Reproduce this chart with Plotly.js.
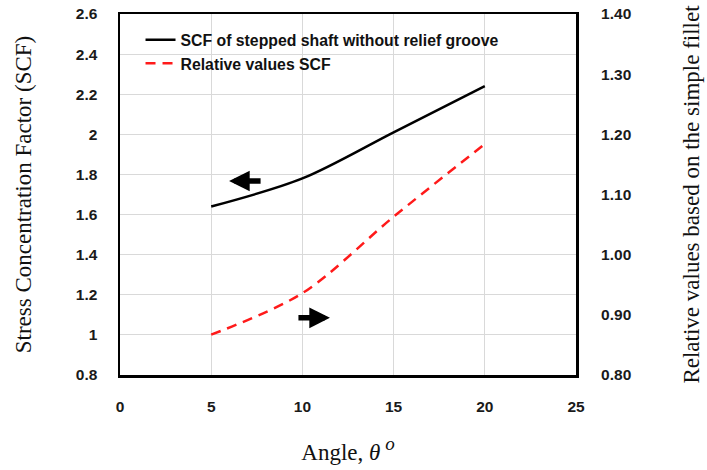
<!DOCTYPE html>
<html>
<head>
<meta charset="utf-8">
<script src="https://cdn.plot.ly/plotly-3.0.1.min.js"></script>
<style>
  html, body { margin: 0; padding: 0; background: #fff; }
  #chart { width: 707px; height: 470px; }
</style>
</head>
<body>
<div id="chart"></div>
<script>
// Fillet angle (degrees)
const angle = [5, 10, 15, 20];
// Stress concentration factor of the stepped shaft without relief groove (left axis)
const scf = [1.64, 1.78, 2.01, 2.24];
// Relative SCF values based on the simple fillet (right axis)
const relativeScf = [0.867, 0.936, 1.063, 1.184];

const xTicks = [0, 5, 10, 15, 20, 25];
const leftTicks = [0.8, 1, 1.2, 1.4, 1.6, 1.8, 2, 2.2, 2.4, 2.6];
const rightTicks = [0.8, 0.9, 1.0, 1.1, 1.2, 1.3, 1.4];

const tickFont = { family: 'Liberation Sans, Arial, sans-serif', size: 15.5, color: '#1a1a1a', weight: 'bold' };
const titleFont = { family: 'Liberation Serif, Times New Roman, serif', size: 23, color: '#111' };

const traces = [
  {
    x: angle, y: scf, type: 'scatter', mode: 'lines',
    name: 'SCF of stepped shaft without relief groove',
    line: { color: '#000', width: 2.5, shape: 'spline', smoothing: 0.9 },
    yaxis: 'y'
  },
  {
    x: angle, y: relativeScf, type: 'scatter', mode: 'lines',
    name: 'Relative values SCF',
    line: { color: '#ff1a1a', width: 2.5, dash: '10px,7px', shape: 'spline', smoothing: 0.9 },
    yaxis: 'y2'
  }
];

const layout = {
  width: 707, height: 470,
  margin: { l: 120, r: 131, t: 14, b: 95 },
  paper_bgcolor: '#fff', plot_bgcolor: '#fff',
  showlegend: true,
  legend: {
    x: 0.045, y: 0.975, xanchor: 'left', yanchor: 'top',
    bgcolor: 'rgba(0,0,0,0)',
    font: { family: 'Liberation Sans, Arial, sans-serif', size: 15.8, color: '#111', weight: 'bold' },
    tracegroupgap: 0, itemwidth: 30
  },
  xaxis: {
    range: [0, 25], tickvals: xTicks, ticktext: xTicks.map(String),
    showgrid: true, gridcolor: '#d9d9d9', gridwidth: 1,
    zeroline: false, showline: true, linecolor: '#000', linewidth: 2.5, mirror: true,
    ticks: 'outside', ticklen: 16, tickcolor: 'rgba(0,0,0,0)',
    tickfont: tickFont,
    title: {
      text: 'Angle, <i>θ</i><sup><span style="font-size:19px"> <i>o</i></span></sup>',
      font: titleFont, standoff: 30
    }
  },
  yaxis: {
    range: [0.8, 2.6], tickvals: leftTicks, ticktext: leftTicks.map(v => String(v)),
    showgrid: true, gridcolor: '#d9d9d9', gridwidth: 1,
    zeroline: false, showline: true, linecolor: '#000', linewidth: 2.5, mirror: true,
    ticks: 'outside', ticklen: 17, tickcolor: 'rgba(0,0,0,0)',
    tickfont: tickFont,
    title: { text: 'Stress Concentration Factor (SCF)', font: titleFont, standoff: 38 }
  },
  yaxis2: {
    range: [0.8, 1.4], overlaying: 'y', side: 'right',
    tickvals: rightTicks, ticktext: rightTicks.map(v => v.toFixed(2)),
    showgrid: false, zeroline: false, showline: false,
    ticks: 'outside', ticklen: 21, tickcolor: 'rgba(0,0,0,0)',
    tickfont: tickFont,
    title: { text: 'Relative values based on the simple fillet', font: titleFont, standoff: 52 }
  },
  annotations: [
    // arrow pointing to the left axis, next to the SCF curve
    { x: 5.98, y: 1.767, xref: 'x', yref: 'y', ax: 33, ay: 0, text: '',
      showarrow: true, arrowhead: 2, arrowsize: 0.75, arrowwidth: 5.5, arrowcolor: '#000' },
    // arrow pointing to the right axis, next to the relative curve
    { x: 11.51, y: 0.895, xref: 'x', yref: 'y2', ax: -33, ay: 0, text: '',
      showarrow: true, arrowhead: 2, arrowsize: 0.75, arrowwidth: 5.5, arrowcolor: '#000' }
  ]
};

Plotly.newPlot('chart', traces, layout, { displayModeBar: false, staticPlot: true });
</script>
</body>
</html>
